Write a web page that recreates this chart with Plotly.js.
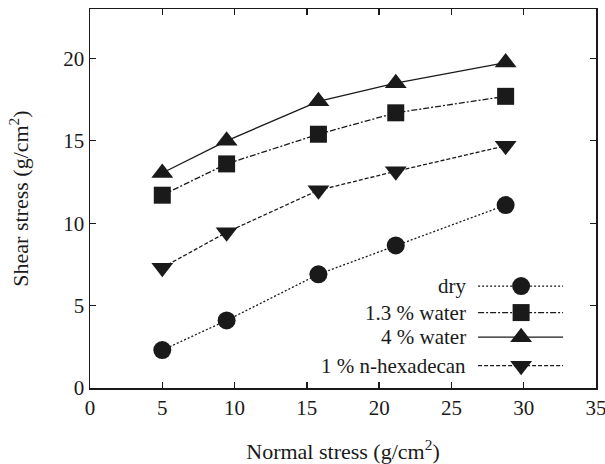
<!DOCTYPE html>
<html>
<head>
<meta charset="utf-8">
<script src="https://cdn.plot.ly/plotly-3.0.1.min.js"></script>
<style>html,body{margin:0;padding:0;background:#fff;}#chart{width:605px;height:464px;}</style>
</head>
<body>
<div id="chart"></div>
<script>
// Data
var normalStress = [5, 9.45, 15.8, 21.15, 28.75];
var dry = [2.3, 4.1, 6.9, 8.65, 11.1];
var water13 = [11.7, 13.6, 15.4, 16.7, 17.7];
var water4 = [13.05, 15.0, 17.4, 18.5, 19.75];
var hexadecan = [7.3, 9.45, 12.0, 13.15, 14.7];
var seriesNames = ['dry', '1.3 % water', '4 % water', '1 % n-hexadecan'];
var xTicks = [0, 5, 10, 15, 20, 25, 30, 35];
var yTicks = [0, 5, 10, 15, 20];

var FONT = 'Liberation Serif, Times New Roman, serif';
var series = [
  {y: dry, symbol: 'circle', size: 18, dash: '2px,2px'},
  {y: water13, symbol: 'square', size: 17, dash: '6px,2px,2px,2px'},
  {y: water4, symbol: 'triangle-up', size: 19, dash: 'solid'},
  {y: hexadecan, symbol: 'triangle-down', size: 19, dash: '4px,2px'}
];

var traces = [];
series.forEach(function(s, i) {
  traces.push({
    x: normalStress, y: s.y, name: seriesNames[i], type: 'scatter', mode: 'lines+markers',
    line: {color: '#1a1a1a', width: 1.3, dash: s.dash},
    marker: {symbol: s.symbol, size: s.size, color: '#1a1a1a'},
    showlegend: false, hoverinfo: 'skip'
  });
});

// Custom legend (symbol to the right of the label) on an overlay axis in paper units
var legRowY = [0.269, 0.199, 0.134, 0.059];
var legX0 = 0.767, legX1 = 0.935, legXm = 0.852, legText = 0.747;
var annotations = [];
series.forEach(function(s, i) {
  traces.push({
    x: [legX0, legX1], y: [legRowY[i], legRowY[i]], xaxis: 'x2', yaxis: 'y2',
    type: 'scatter', mode: 'lines', line: {color: '#1a1a1a', width: 1.3, dash: s.dash},
    showlegend: false, hoverinfo: 'skip'
  });
  traces.push({
    x: [legXm], y: [legRowY[i]], xaxis: 'x2', yaxis: 'y2',
    type: 'scatter', mode: 'markers', marker: {symbol: s.symbol, size: s.size, color: '#1a1a1a'},
    showlegend: false, hoverinfo: 'skip'
  });
  annotations.push({
    xref: 'paper', yref: 'paper', x: legText, y: legRowY[i], xanchor: 'right', yanchor: 'middle',
    text: seriesNames[i], showarrow: false, font: {family: FONT, size: 21, color: '#1a1a1a'}
  });
});

var axisCommon = {
  showgrid: false, zeroline: false, showline: true, linecolor: '#1a1a1a', linewidth: 1.5,
  mirror: 'ticks', ticks: 'inside', ticklen: 6, tickwidth: 1.3, tickcolor: '#1a1a1a',
  ticklabeloverflow: 'allow',
  tickfont: {family: FONT, size: 21, color: '#1a1a1a'}
};

var layout = {
  width: 605, height: 464,
  margin: {l: 90, r: 9, t: 9, b: 76},
  paper_bgcolor: '#fff', plot_bgcolor: '#fff',
  showlegend: false,
  xaxis: Object.assign({}, axisCommon, {
    range: [0, 35], tickmode: 'array', tickvals: xTicks, ticktext: xTicks.map(String),
    title: {text: 'Normal stress (g/cm<sup>2</sup>)', font: {family: FONT, size: 22, color: '#1a1a1a'}, standoff: 26}
  }),
  yaxis: Object.assign({}, axisCommon, {
    range: [0, 23], tickmode: 'array', tickvals: yTicks, ticktext: yTicks.map(String),
    title: {text: 'Shear stress (g/cm<sup>2</sup>)', font: {family: FONT, size: 22, color: '#1a1a1a'}, standoff: 28}
  }),
  xaxis2: {overlaying: 'x', range: [0, 1], visible: false, fixedrange: true},
  yaxis2: {overlaying: 'y', range: [0, 1], visible: false, fixedrange: true},
  annotations: annotations
};

Plotly.newPlot('chart', traces, layout, {displayModeBar: false, staticPlot: true});
</script>
</body>
</html>
